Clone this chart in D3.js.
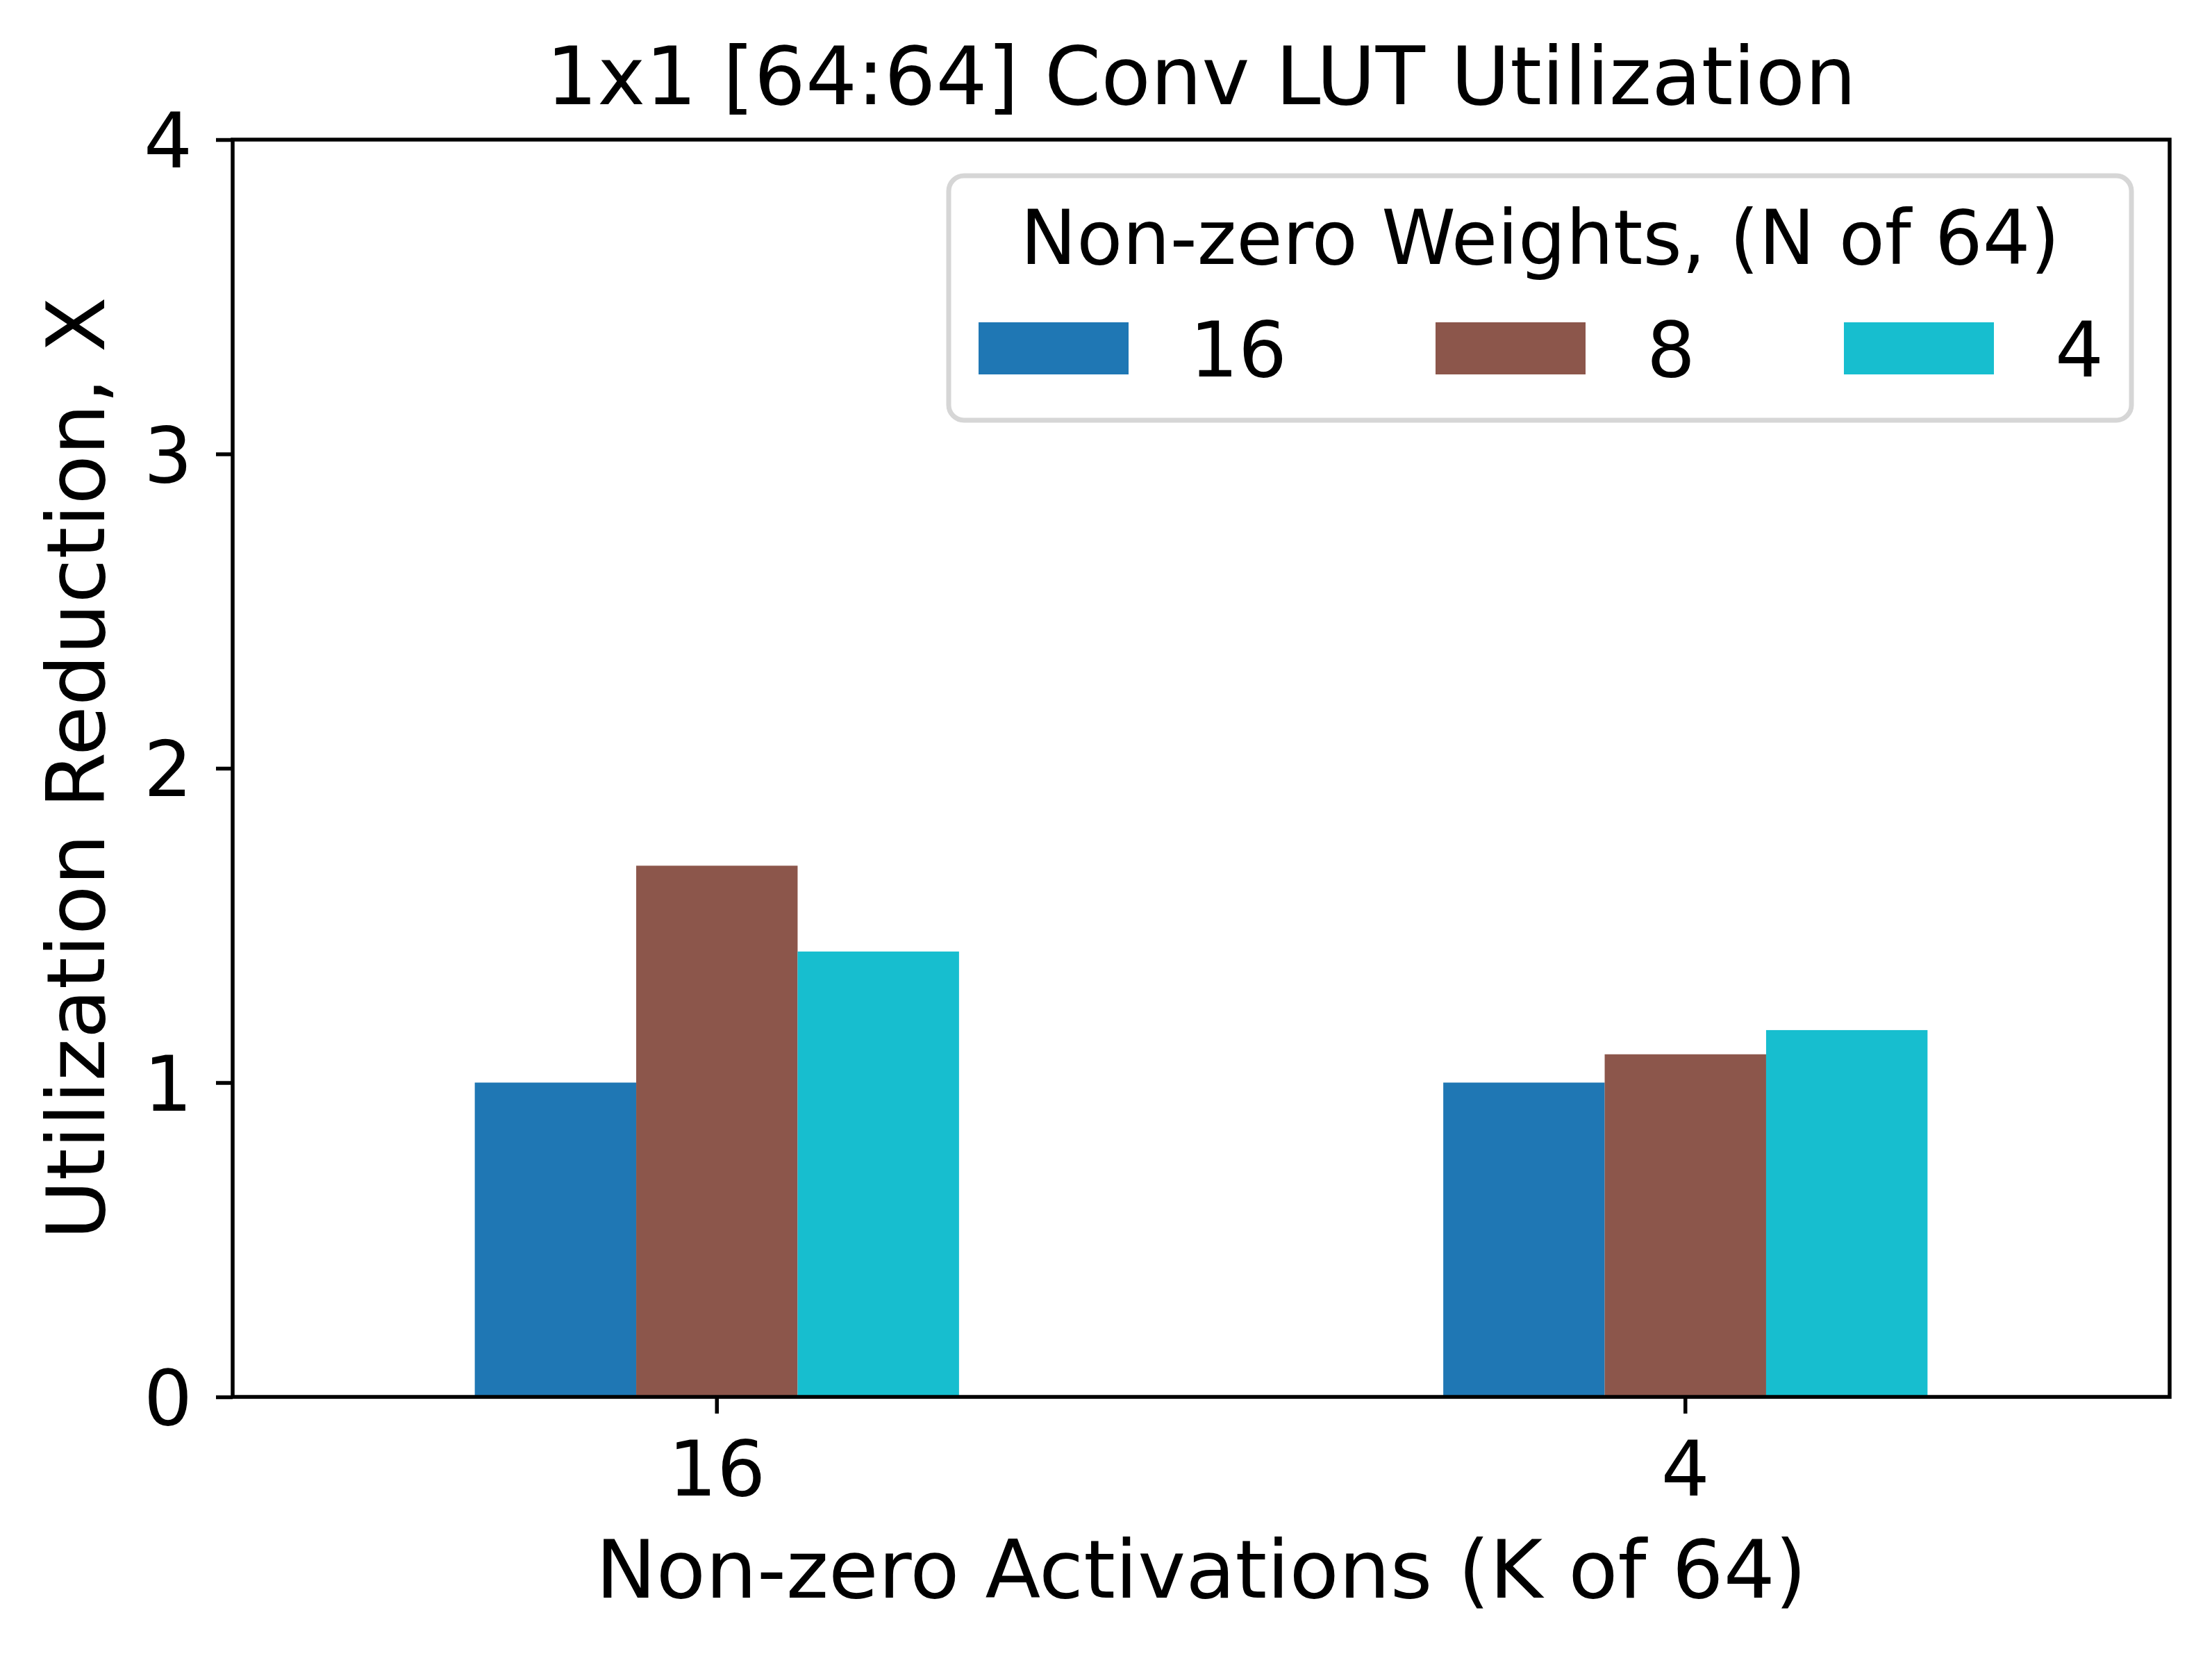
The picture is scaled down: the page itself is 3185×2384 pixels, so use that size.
<!DOCTYPE html>
<meta charset="utf-8">
<style>
body { margin: 0; background: #fff; }
text { font-family: "DejaVu Sans", sans-serif; fill: #000; }
.axis path { display: none; }
.axis line { stroke: #000; stroke-width: 5.5; }
</style>
<svg width="3185" height="2384"></svg>
<script src="https://d3js.org/d3.v7.min.js"></script>
<script>

// Non-zero activations (K of 64) on the x axis
var categories = ["16", "4"];
// Non-zero weights (N of 64), one series each
var series = ["16", "8", "4"];
var values16 = [1.0, 1.69, 1.417];
var values4 = [1.0, 1.09, 1.167];
var yTicks = [0, 1, 2, 3, 4];
var colors = ["#1f77b4", "#8c564b", "#17becf"];

var rows = [values16, values4];

var svg = d3.select("svg"),
    margin = {top: 201, right: 61, bottom: 373, left: 335},
    width = +svg.attr("width") - margin.left - margin.right,
    height = +svg.attr("height") - margin.top - margin.bottom,
    g = svg.append("g").attr("transform", "translate(" + margin.left + "," + margin.top + ")");

svg.insert("rect", ":first-child")
    .attr("width", 3185).attr("height", 2384).attr("fill", "#fff");

// x: one band per category, half a step wide like pandas bar plots
var x0 = d3.scaleBand()
    .domain(categories)
    .range([0, width])
    .paddingInner(0.5)
    .paddingOuter(0.25);

var x1 = d3.scaleBand()
    .domain(series)
    .range([0, x0.bandwidth()]);

var y = d3.scaleLinear()
    .domain([0, 4])
    .range([height, 0]);

// bars
g.selectAll("g.group")
    .data(rows)
    .enter().append("g")
        .attr("class", "group")
        .attr("transform", function(d, i) { return "translate(" + x0(categories[i]) + ",0)"; })
    .selectAll("rect")
    .data(function(d) { return d; })
    .enter().append("rect")
        .attr("x", function(d, j) { return x1(series[j]); })
        .attr("y", function(d) { return y(d); })
        .attr("width", x1.bandwidth())
        .attr("height", function(d) { return height - y(d); })
        .attr("fill", function(d, j) { return colors[j]; });

// axes
var xAxis = g.append("g")
    .attr("class", "axis")
    .attr("transform", "translate(0," + height + ")")
    .call(d3.axisBottom(x0).tickSize(24).tickPadding(0));
xAxis.selectAll("text")
    .attr("y", 142).attr("dy", 0)
    .attr("font-size", 110);

var yAxis = g.append("g")
    .attr("class", "axis")
    .call(d3.axisLeft(y).tickValues(yTicks).tickFormat(d3.format("d")).tickSize(24).tickPadding(34));
yAxis.selectAll("text")
    .attr("dy", "0.36em")
    .attr("font-size", 110);

// frame
g.append("rect")
    .attr("width", width)
    .attr("height", height)
    .attr("fill", "none")
    .attr("stroke", "#000")
    .attr("stroke-width", 5.5);

// title and labels
svg.append("text")
    .attr("x", margin.left + width / 2)
    .attr("y", 150)
    .attr("text-anchor", "middle")
    .attr("font-size", 116.5)
    .text("1x1 [64:64] Conv LUT Utilization");

svg.append("text")
    .attr("x", margin.left + width / 2)
    .attr("y", 2300)
    .attr("text-anchor", "middle")
    .attr("font-size", 116.5)
    .text("Non-zero Activations (K of 64)");

svg.append("text")
    .attr("transform", "translate(150," + (margin.top + height / 2) + ") rotate(-90)")
    .attr("text-anchor", "middle")
    .attr("font-size", 116.5)
    .text("Utilization Reduction, X");

// legend
var legend = svg.append("g").attr("transform", "translate(1366,253)");

legend.append("rect")
    .attr("width", 1703)
    .attr("height", 352)
    .attr("rx", 22)
    .attr("fill", "#fff")
    .attr("fill-opacity", 0.8)
    .attr("stroke", "#d6d6d6")
    .attr("stroke-width", 7);

legend.append("text")
    .attr("x", 1703 / 2)
    .attr("y", 127)
    .attr("text-anchor", "middle")
    .attr("font-size", 108)
    .text("Non-zero Weights, (N of 64)");

var cx = 43;
series.forEach(function(s, i) {
    var item = legend.append("g").attr("transform", "translate(" + cx + ",0)");
    item.append("rect")
        .attr("y", 211)
        .attr("width", 216)
        .attr("height", 75)
        .attr("fill", colors[i]);
    var t = item.append("text")
        .attr("x", 216 + 88)
        .attr("y", 289)
        .attr("font-size", 110)
        .text(s);
    cx += 216 + 88 + t.node().getComputedTextLength() + 214;
});

</script>
